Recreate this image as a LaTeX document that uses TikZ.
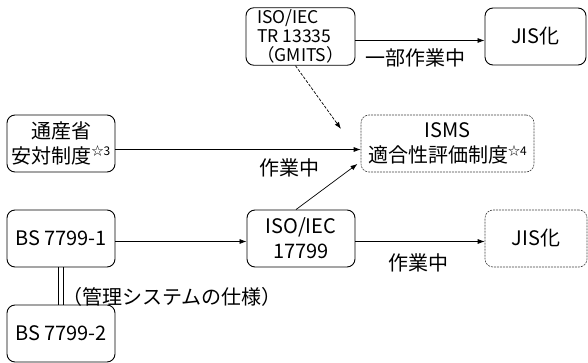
\documentclass[tikz,border=0pt]{standalone}
\usepackage{fontspec}
\setmainfont{Noto Sans CJK JP}
\usetikzlibrary{arrows.meta}
\tikzstyle{chart} = [x = 1pt, y = -1pt]
\newcommand{\bodyFont}{\fontsize{20}{25}\selectfont}
\newcommand{\smallFont}{\fontsize{17.5}{19}\selectfont}
\newcommand{\noteMark}[1]{\raisebox{0.7ex}{\fontsize{12}{12}\selectfont ☆#1}}
\tikzstyle{boxStyle} = [draw=black, line width=0.9pt, rounded corners=8pt, minimum height=57pt, inner sep=2pt, align=center, font=\bodyFont]
\tikzstyle{plannedBox} = [boxStyle, draw=black!75, line width=0.6pt, dash pattern=on 2pt off 1pt]
\tikzstyle{flowArrow} = [line width=0.7pt, -{Latex[length=7pt,width=5pt]}]
\tikzstyle{linkText} = [font=\bodyFont, inner sep=0pt]
\tikzstyle{railLine} = [line width=0.9pt]

\begin{document}
\begin{tikzpicture}[chart]
        \useasboundingbox (0,0) rectangle (588,363);

        % standards and schemes
        \node[boxStyle, minimum width=109pt, align=left, font=\smallFont] (gmits) at (300.5,36.5) {ISO/IEC\\TR 13335\\（GMITS）};
        \node[boxStyle, minimum width=101pt] (jisTop) at (535.5,36.5) {JIS化};
        \node[boxStyle, minimum width=108pt] (tsusan) at (61,143.5) {通産省\\安対制度\noteMark{3}};
        \node[plannedBox, minimum width=173pt] (isms) at (447.5,143.5) {ISMS\\適合性評価制度\noteMark{4}};
        \node[boxStyle, minimum width=108pt] (bsOne) at (61,238.5) {BS 7799-1};
        \node[boxStyle, minimum width=108pt] (isoStd) at (301,238.5) {ISO/IEC\\17799};
        \node[plannedBox, minimum width=102pt] (jisBottom) at (536,238.5) {JIS化};
        \node[boxStyle, minimum width=108pt] (bsTwo) at (61,333.5) {BS 7799-2};

        % links
        \draw[flowArrow] ([yshift=-4pt]gmits.east) -- ([yshift=-4pt]jisTop.west);
        \node[linkText] (partLabel) at (415,58) {一部作業中};

        \coordinate (gmitsTip) at (341,129);
        \draw[flowArrow, dash pattern=on 3pt off 1.5pt] ([xshift=-5pt]gmits.south) -- (gmitsTip);

        \draw[flowArrow] ([yshift=-6pt]tsusan.east) -- ([yshift=-6pt]isms.west);
        \node[linkText] (wipTop) at (289,168) {作業中};

        \draw[flowArrow, shorten >=4pt] ([xshift=-5pt]isoStd.north) -- ([yshift=-18pt]isms.west);

        \draw[flowArrow] ([yshift=-3pt]bsOne.east) -- ([yshift=-3pt]isoStd.west);
        \draw[flowArrow] ([yshift=-3pt]isoStd.east) -- ([yshift=-3pt]jisBottom.west);
        \node[linkText] (wipBottom) at (418,263) {作業中};

        % BS 7799-1 / -2 pair
        \draw[railLine] ([xshift=-2.5pt]bsOne.south) -- ([xshift=-2.5pt]bsTwo.north);
        \draw[railLine] ([xshift=2.5pt]bsOne.south) -- ([xshift=2.5pt]bsTwo.north);
        \node[linkText] (specLabel) at (172,297) {（管理システムの仕様）};
\end{tikzpicture}
\end{document}
